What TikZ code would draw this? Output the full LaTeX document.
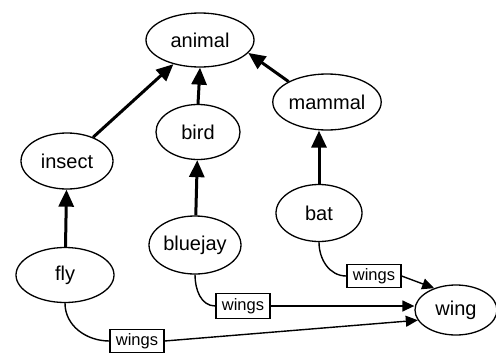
\documentclass[tikz,border=0pt]{standalone}
\usepackage{fontspec}
\setmainfont{Liberation Sans}
\usetikzlibrary{shapes.geometric,arrows.meta}
\tikzset{
  ell/.style={ellipse,draw,line width=1.3pt,inner sep=0pt,font=\fontsize{20}{22}\selectfont},
  wbox/.style={rectangle,draw,line width=1.3pt,inner sep=0pt,minimum width=54pt,minimum height=23pt,font=\fontsize{16.5}{18}\selectfont},
  isa/.style={line width=3pt,-{Triangle[length=17pt,width=15pt]}},
  rel/.style={line width=1.4pt},
  relarr/.style={line width=1.4pt,-{Triangle[length=12pt,width=11pt]}}
}
\begin{document}
\begin{tikzpicture}[x=1pt,y=-1pt]
\useasboundingbox (0,0) rectangle (496,354);
\node[ell,minimum width=108pt,minimum height=54pt] (animal) at (200,40) {animal};
\node[ell,minimum width=100pt,minimum height=56pt] (mammal) at (327,102) {mammal};
\node[ell,minimum width=84pt,minimum height=55pt] (bird) at (198,132) {bird};
\node[ell,minimum width=92pt,minimum height=56pt] (insect) at (67,161) {insect};
\node[ell,minimum width=86pt,minimum height=57pt] (bat) at (319,213) {bat};
\node[ell,minimum width=92pt,minimum height=58pt] (bluejay) at (195,245) {bluejay};
\node[ell,minimum width=98pt,minimum height=55pt] (fly) at (65,275) {fly};
\node[ell,minimum width=82pt,minimum height=50pt] (wing) at (456,310) {wing};
\node[wbox] (w1) at (374,276) {wings};
\node[wbox,minimum height=25pt] (w2) at (243,306) {wings};
\node[wbox] (w3) at (137,341) {wings};

\draw[isa] (insect) -- (animal);
\draw[isa] (bird.north) -- (animal.south);
\draw[isa] (mammal.152) -- (animal.-15);
\draw[isa] (bat.north) -- (bat.north |- mammal.south);
\draw[isa] (bluejay) -- (bird);
\draw[isa] (fly) -- (insect);

\draw[rel] (bat.south) to[out=-90,in=180] (w1.west);
\draw[relarr] (w1.east) -- (wing.135);
\draw[rel] (bluejay.south) to[out=-90,in=180] (w2.west);
\draw[relarr] (w2.east) -- (w2.east -| wing.west);
\draw[rel] (fly.south) to[out=-90,in=180] (w3.west);
\draw[relarr] (w3.east) -- (wing.195);
\end{tikzpicture}
\end{document}
